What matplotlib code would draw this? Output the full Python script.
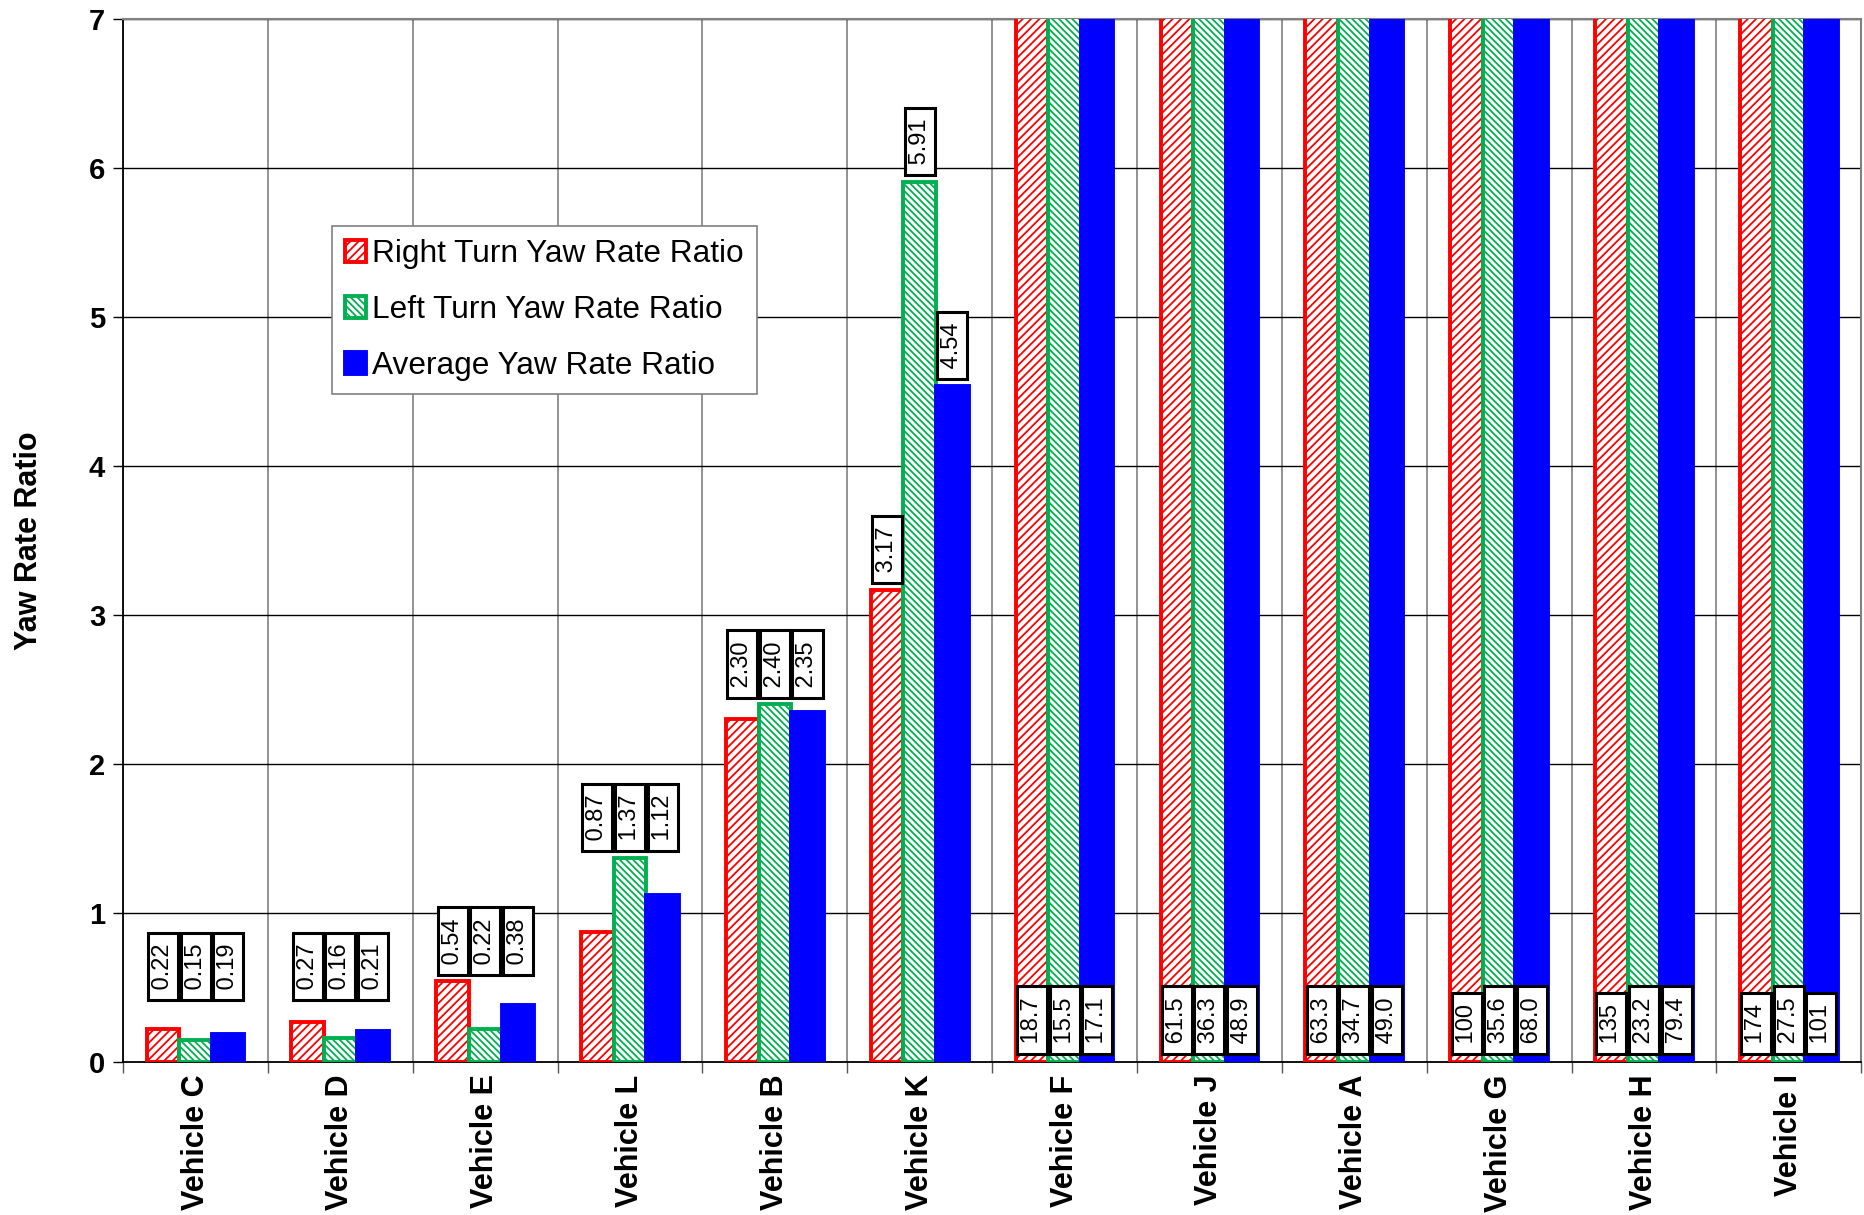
import numpy as np
import matplotlib.pyplot as plt
from matplotlib.ticker import FixedLocator, NullFormatter

plt.rcParams['font.family'] = ['Liberation Sans', 'DejaVu Sans']
plt.rcParams['hatch.linewidth'] = 1.3

# data
vehicles = ['Vehicle C', 'Vehicle D', 'Vehicle E', 'Vehicle L', 'Vehicle B', 'Vehicle K',
            'Vehicle F', 'Vehicle J', 'Vehicle A', 'Vehicle G', 'Vehicle H', 'Vehicle I']
right_turn = [0.22, 0.27, 0.54, 0.87, 2.30, 3.17, 18.7, 61.5, 63.3, 100, 135, 174]
left_turn = [0.15, 0.16, 0.22, 1.37, 2.40, 5.91, 15.5, 36.3, 34.7, 35.6, 23.2, 27.5]
average = [0.19, 0.21, 0.38, 1.12, 2.35, 4.54, 17.1, 48.9, 49.0, 68.0, 79.4, 101]

YMAX = 7


def fmt(v):
    if v < 10:
        return f'{v:.2f}'
    if v < 100:
        return f'{v:.1f}'
    return f'{v:.0f}'


fig = plt.figure(figsize=(18.65, 12.15), dpi=100)
ax = fig.add_axes([0.066, 0.126, 0.932, 0.858])

x = np.arange(len(vehicles))
w = 0.225

series = [
    (right_turn, 'Right Turn Yaw Rate Ratio', dict(facecolor='white', edgecolor='#ff0000', hatch='////')),
    (left_turn, 'Left Turn Yaw Rate Ratio', dict(facecolor='white', edgecolor='#00b050', hatch='\\\\\\\\\\')),
    (average, 'Average Yaw Rate Ratio', dict(facecolor='#0000ff', edgecolor='#0000ff')),
]

for i, (vals, name, style) in enumerate(series):
    ax.bar(x + (i - 1) * w, vals, w, label=name, linewidth=2.8, zorder=3, **style)

# value labels
box = dict(boxstyle='square,pad=0.17', fc='white', ec='black', lw=2.2)
groups = list(zip(right_turn, left_turn, average))
for j, g in enumerate(groups):
    for i, v in enumerate(g):
        if max(g) > YMAX:
            base = 0.06
        elif max(g) - min(g) > 1:
            base = v + 0.05
        else:
            base = max(max(g) + 0.05, 0.42)
        ax.annotate(' ' + fmt(v) + ' ', (x[j] + (i - 1) * w, base), xytext=(0, 2.5),
                    textcoords='offset points', rotation=90, ha='center', va='bottom',
                    fontsize=17, bbox=box, zorder=5)

ax.set_xlim(-0.5, len(vehicles) - 0.5)
ax.set_ylim(0, YMAX)

ax.set_yticks(range(0, YMAX + 1))
ax.tick_params(axis='y', labelsize=21, length=7, width=1, pad=6)
for t in ax.get_yticklabels():
    t.set_fontweight('bold')

ax.set_xticks(x)
ax.set_xticklabels(vehicles, rotation=90, fontsize=22, fontweight='bold')
ax.tick_params(axis='x', which='major', length=0, pad=9)
ax.xaxis.set_minor_locator(FixedLocator(np.arange(-0.5, len(vehicles), 1)))
ax.xaxis.set_minor_formatter(NullFormatter())
ax.tick_params(axis='x', which='minor', length=8, width=1, color='#555555')

ax.grid(axis='y', which='major', color='black', linewidth=1, zorder=0)
ax.grid(axis='x', which='minor', color='#808080', linewidth=1.2, zorder=0)
ax.set_axisbelow(True)

for s in ['top', 'right']:
    ax.spines[s].set_color('#808080')
    ax.spines[s].set_linewidth(1.5)
ax.spines['left'].set_linewidth(1.3)
ax.spines['bottom'].set_linewidth(1.3)

ax.set_ylabel('Yaw Rate Ratio', fontsize=22, fontweight='bold', labelpad=32)

leg = ax.legend(loc='upper left', bbox_to_anchor=(0.120, 0.802), borderaxespad=0,
                fontsize=22.8, fancybox=False, framealpha=1, edgecolor='#808080',
                handlelength=0.65, handleheight=0.65, handletextpad=0.2,
                labelspacing=0.82, borderpad=0.42)
leg.get_frame().set_linewidth(1.2)
leg.set_zorder(6)

fig.savefig('out.png', dpi=100)
